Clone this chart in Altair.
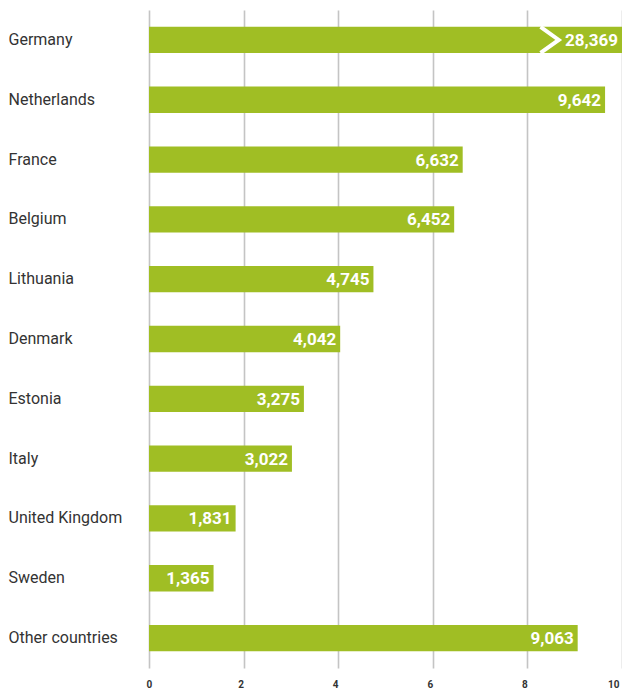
import altair as alt
import pandas as pd

countries = ["Germany", "Netherlands", "France", "Belgium", "Lithuania", "Denmark",
             "Estonia", "Italy", "United Kingdom", "Sweden", "Other countries"]
values = [28369, 9642, 6632, 6452, 4745, 4042, 3275, 3022, 1831, 1365, 9063]
x_ticks = [0, 2, 4, 6, 8, 10]
break_country = "Germany"
break_at = 8.47  # thousands, where the truncation chevron sits

df = pd.DataFrame({"country": countries, "value": values})
brk = pd.DataFrame({"country": [break_country], "pos": [break_at]})

FONT = "Roboto, Liberation Sans, sans-serif"
GREEN = "#a0be24"

y_enc = alt.Y("country:N", sort=countries,
              scale=alt.Scale(paddingInner=0.56, paddingOuter=0.28),
              axis=alt.Axis(title=None, ticks=False, tickSize=0, domain=False,
                            labelAlign="left", labelPadding=141, labelFontSize=16,
                            labelFont=FONT, labelColor="#333333", labelLimit=200))

x_scale = alt.Scale(domain=[0, 10.0], clamp=True, nice=False)

base = alt.Chart(df).transform_calculate(k="datum.value / 1000")

bars = base.mark_bar(color=GREEN).encode(
    x=alt.X("k:Q", scale=x_scale,
            axis=alt.Axis(title=None, values=x_ticks, format="d", grid=True,
                          gridColor="#c4c4c4", gridWidth=1.6, domain=False,
                          ticks=False, tickSize=0, labelPadding=11, labelOffset=-3,
                          labelFontSize=10, labelFont=FONT, labelFontWeight="bold",
                          labelColor="#333333")),
    y=y_enc,
)

labels = base.mark_text(align="right", baseline="middle", dx=-4, dy=1,
                        color="white", font=FONT, fontSize=17,
                        fontWeight="bold").encode(
    x=alt.X("k:Q", scale=x_scale),
    y=alt.Y("country:N", sort=countries),
    text=alt.Text("value:Q", format=","),
)

chevron = alt.Chart(brk).mark_point(
    shape="M -0.7 -1 L 0.7 0 L -0.7 1", filled=False, stroke="white",
    strokeWidth=4, size=676, opacity=1, strokeCap="butt", strokeJoin="miter",
).encode(
    x=alt.X("pos:Q", scale=x_scale),
    y=alt.Y("country:N", sort=countries),
)

chart = alt.layer(bars, chevron, labels).properties(
    width=473, height=658,
    autosize=alt.AutoSizeParams(type="none"),
    padding={"left": 141, "top": 2, "right": 0, "bottom": 20},
).configure_view(stroke=None)

chart.save("out.html", embed_options={"renderer": "svg", "actions": False})
